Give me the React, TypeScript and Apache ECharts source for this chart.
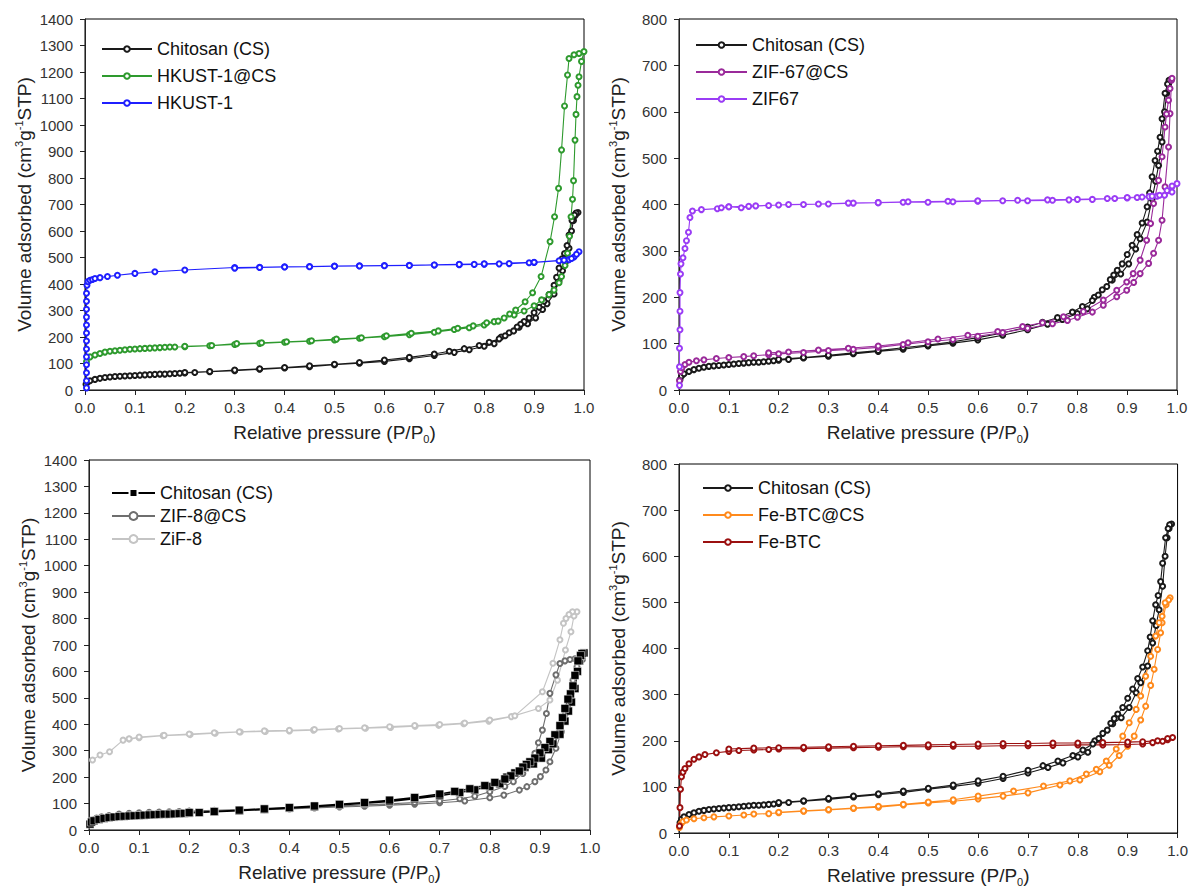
import React, { useEffect, useRef } from "react";
import * as echarts from "echarts";

type Pt = [number, number];

// ---------- Chitosan (CS) ----------
const csAds: Pt[] = [
  [0.002, 22], [0.005, 30], [0.01, 35], [0.02, 40], [0.03, 44], [0.04, 47], [0.05, 49], [0.06, 51],
  [0.07, 52], [0.08, 53], [0.09, 54], [0.1, 55], [0.11, 56], [0.12, 57], [0.13, 58], [0.14, 59],
  [0.15, 60], [0.16, 60], [0.17, 61], [0.18, 62], [0.19, 63], [0.2, 64], [0.22, 66], [0.25, 69],
  [0.3, 73], [0.35, 78], [0.4, 83], [0.45, 88], [0.5, 95], [0.55, 101], [0.6, 108], [0.65, 118],
  [0.7, 130], [0.74, 142], [0.77, 152], [0.8, 165], [0.82, 175], [0.834, 200], [0.85, 216],
  [0.87, 237], [0.887, 250], [0.903, 272], [0.917, 304], [0.926, 326], [0.94, 362], [0.95, 412],
  [0.957, 450], [0.963, 484], [0.97, 535], [0.975, 600], [0.979, 640], [0.983, 660], [0.988, 670],
];
const csDes: Pt[] = [
  [0.984, 668], [0.981, 660], [0.976, 640], [0.97, 585], [0.966, 545], [0.961, 515], [0.956, 495],
  [0.95, 460], [0.945, 425], [0.94, 395], [0.93, 360], [0.92, 335], [0.91, 312], [0.9, 292],
  [0.89, 272], [0.88, 258], [0.873, 248], [0.866, 238], [0.859, 223], [0.842, 205], [0.83, 193],
  [0.81, 180], [0.79, 168], [0.76, 156], [0.73, 146], [0.7, 136], [0.65, 123], [0.6, 113],
  [0.55, 104], [0.5, 97], [0.45, 91], [0.4, 85], [0.35, 80], [0.3, 75], [0.25, 70], [0.2, 66],
];

// ---------- HKUST-1@CS ----------
const hkcsAds: Pt[] = [
  [0.003, 107], [0.01, 125], [0.02, 132], [0.03, 138], [0.04, 143], [0.05, 146], [0.06, 148],
  [0.07, 150], [0.08, 152], [0.09, 154], [0.1, 155], [0.11, 156], [0.12, 157], [0.13, 158],
  [0.14, 159], [0.15, 160], [0.16, 161], [0.17, 162], [0.18, 162], [0.2, 163], [0.25, 167],
  [0.3, 172], [0.35, 176], [0.4, 180], [0.45, 184], [0.5, 189], [0.55, 195], [0.6, 201],
  [0.65, 209], [0.7, 218], [0.74, 228], [0.77, 235], [0.8, 245], [0.82, 258], [0.84, 272],
  [0.86, 283], [0.88, 298], [0.9, 318], [0.915, 340], [0.93, 360], [0.94, 377], [0.95, 405],
  [0.955, 428], [0.962, 470], [0.967, 516], [0.971, 580], [0.974, 654], [0.977, 720],
  [0.979, 790], [0.982, 943], [0.984, 1040], [0.986, 1107], [0.988, 1150], [0.99, 1182],
  [0.995, 1240], [1.0, 1277],
];
const hkcsDes: Pt[] = [
  [0.99, 1270], [0.98, 1265], [0.97, 1251], [0.967, 1189], [0.961, 1072], [0.955, 906],
  [0.949, 761], [0.941, 654], [0.932, 560], [0.914, 428], [0.897, 367], [0.882, 333],
  [0.863, 302], [0.851, 287], [0.828, 260], [0.805, 254], [0.778, 242], [0.747, 233],
  [0.708, 223], [0.654, 214], [0.604, 205], [0.554, 197], [0.504, 192], [0.454, 186],
  [0.404, 182], [0.354, 178], [0.304, 175], [0.254, 168], [0.2, 165],
];

// ---------- HKUST-1 ----------
const hkAds: Pt[] = [
  [0.003, 8], [0.003, 35], [0.003, 65], [0.003, 95], [0.003, 125], [0.003, 155], [0.003, 185],
  [0.003, 215], [0.003, 245], [0.003, 275], [0.003, 305], [0.003, 335], [0.003, 365],
  [0.004, 395], [0.006, 409], [0.01, 414], [0.015, 417], [0.02, 421], [0.03, 424], [0.045, 428],
  [0.065, 433], [0.1, 440], [0.14, 446], [0.2, 453], [0.3, 462], [0.35, 463], [0.4, 465],
  [0.45, 466], [0.5, 468], [0.55, 469], [0.6, 470], [0.65, 471], [0.7, 472], [0.75, 473],
  [0.78, 474], [0.8, 475], [0.83, 476], [0.85, 477], [0.89, 480], [0.9, 481], [0.95, 488],
  [0.97, 492], [0.98, 502], [0.99, 522],
];
const hkDes: Pt[] = [
  [0.985, 512], [0.975, 496], [0.96, 490], [0.9, 482], [0.8, 476], [0.75, 474], [0.7, 472],
  [0.65, 470], [0.6, 469], [0.55, 468], [0.5, 467], [0.45, 465], [0.4, 464], [0.35, 462], [0.3, 460],
];

// ---------- ZIF-67@CS ----------
const z67csAds: Pt[] = [
  [0.001, 20], [0.003, 40], [0.006, 48], [0.012, 55], [0.02, 60], [0.035, 63], [0.05, 65],
  [0.075, 68], [0.1, 70], [0.13, 72], [0.15, 74], [0.18, 76], [0.2, 78], [0.25, 81], [0.3, 85],
  [0.35, 88], [0.4, 92], [0.45, 98], [0.5, 104], [0.55, 109], [0.6, 116], [0.65, 124],
  [0.7, 133], [0.75, 143], [0.78, 150], [0.8, 157], [0.83, 168], [0.852, 183], [0.879, 201],
  [0.899, 215], [0.913, 232], [0.926, 251], [0.943, 273], [0.953, 295], [0.963, 323],
  [0.97, 366], [0.976, 438], [0.983, 524], [0.986, 596], [0.989, 668],
];
const z67csDes: Pt[] = [
  [0.99, 672], [0.986, 650], [0.983, 625], [0.979, 595], [0.976, 567], [0.97, 503], [0.963, 452],
  [0.953, 402], [0.947, 359], [0.939, 323], [0.926, 280], [0.912, 251], [0.899, 233],
  [0.879, 215], [0.852, 194], [0.812, 169], [0.772, 158], [0.73, 145], [0.69, 137], [0.64, 126],
  [0.58, 118], [0.52, 110], [0.46, 102], [0.4, 95], [0.34, 90], [0.28, 86], [0.22, 82], [0.18, 80],
];

// ---------- ZIF67 ----------
const z67Ads: Pt[] = [
  [0.001, 10], [0.001, 50], [0.001, 90], [0.002, 130], [0.002, 170], [0.002, 210], [0.003, 250],
  [0.004, 272], [0.008, 285], [0.012, 305], [0.015, 322], [0.019, 340], [0.022, 372],
  [0.027, 386], [0.045, 389], [0.077, 391], [0.1, 395], [0.125, 393], [0.154, 397], [0.2, 399],
  [0.25, 400], [0.3, 401], [0.35, 403], [0.4, 404], [0.45, 405], [0.5, 405], [0.55, 406],
  [0.6, 407], [0.65, 408], [0.7, 408], [0.75, 409], [0.783, 410], [0.83, 411], [0.875, 413],
  [0.9, 414], [0.92, 415], [0.944, 417], [0.96, 418], [0.975, 420], [0.99, 427], [1.0, 445],
];
const z67Des: Pt[] = [
  [0.99, 440], [0.98, 430], [0.965, 420], [0.95, 418], [0.93, 416], [0.9, 415], [0.86, 413],
  [0.8, 411], [0.74, 410], [0.68, 409], [0.6, 408], [0.54, 407], [0.46, 406], [0.4, 404],
  [0.34, 403], [0.28, 401], [0.22, 400], [0.18, 398], [0.14, 396], [0.1, 395], [0.085, 393],
];

// ---------- ZIF-8@CS ----------
const z8csAds: Pt[] = [
  [0.008, 38], [0.015, 45], [0.025, 50], [0.04, 55], [0.06, 60], [0.08, 63], [0.1, 65],
  [0.12, 67], [0.14, 68], [0.16, 69], [0.18, 70], [0.2, 71], [0.25, 73], [0.3, 75], [0.35, 77],
  [0.4, 80], [0.45, 83], [0.5, 87], [0.55, 90], [0.6, 94], [0.65, 98], [0.7, 103], [0.75, 110],
  [0.8, 122], [0.828, 132], [0.859, 151], [0.874, 164], [0.89, 183], [0.901, 202], [0.912, 227],
  [0.92, 258], [0.932, 309], [0.943, 372], [0.951, 441], [0.958, 504], [0.966, 567],
  [0.974, 618], [0.985, 645],
];
const z8csDes: Pt[] = [
  [0.98, 650], [0.97, 648], [0.96, 645], [0.95, 640], [0.94, 630], [0.932, 587], [0.92, 517],
  [0.913, 441], [0.905, 378], [0.897, 330], [0.89, 290], [0.877, 246], [0.866, 214],
  [0.847, 183], [0.83, 165], [0.8, 145], [0.77, 128], [0.74, 118], [0.7, 110], [0.65, 104],
  [0.6, 99], [0.55, 95], [0.5, 91], [0.45, 87], [0.4, 83], [0.35, 80], [0.3, 77], [0.25, 75], [0.2, 72],
];

// ---------- ZiF-8 ----------
const z8Ads: Pt[] = [
  [0.007, 265], [0.022, 284], [0.041, 296], [0.068, 340], [0.08, 344], [0.1, 349], [0.148, 357],
  [0.202, 361], [0.252, 366], [0.302, 371], [0.352, 373], [0.4, 375], [0.448, 378], [0.498, 382],
  [0.552, 385], [0.602, 388], [0.651, 393], [0.698, 396], [0.748, 402], [0.798, 412],
  [0.843, 429], [0.897, 460], [0.92, 492], [0.935, 567], [0.951, 681], [0.962, 750],
  [0.968, 810], [0.974, 826],
];
const z8Des: Pt[] = [
  [0.965, 826], [0.958, 815], [0.952, 800], [0.947, 782], [0.94, 720], [0.926, 631],
  [0.905, 523], [0.85, 432], [0.8, 416], [0.75, 405], [0.7, 399], [0.65, 395], [0.6, 391],
  [0.55, 387], [0.5, 384], [0.45, 380], [0.4, 377], [0.35, 375], [0.3, 372], [0.25, 368],
  [0.2, 363], [0.15, 358], [0.1, 352], [0.08, 345],
];

// ---------- Fe-BTC@CS ----------
const febcsAds: Pt[] = [
  [0.001, 12], [0.004, 20], [0.008, 25], [0.015, 28], [0.03, 31], [0.05, 33], [0.07, 35],
  [0.1, 37], [0.13, 39], [0.15, 41], [0.18, 42], [0.2, 44], [0.25, 47], [0.3, 50], [0.35, 53],
  [0.4, 56], [0.45, 61], [0.5, 65], [0.55, 69], [0.6, 74], [0.65, 80], [0.7, 87], [0.764, 104],
  [0.804, 115], [0.844, 133], [0.863, 147], [0.883, 168], [0.9, 188], [0.913, 210], [0.926, 245],
  [0.936, 275], [0.946, 320], [0.953, 355], [0.96, 398], [0.966, 434], [0.969, 456],
  [0.977, 495], [0.985, 510],
];
const febcsDes: Pt[] = [
  [0.982, 505], [0.975, 499], [0.969, 470], [0.963, 456], [0.956, 427], [0.946, 383],
  [0.936, 340], [0.926, 297], [0.917, 268], [0.903, 239], [0.89, 210], [0.877, 182],
  [0.857, 156], [0.837, 138], [0.817, 128], [0.784, 113], [0.731, 102], [0.671, 91], [0.6, 80],
  [0.55, 72], [0.5, 67], [0.45, 62], [0.4, 58], [0.35, 54], [0.3, 51], [0.25, 48], [0.2, 45],
];

// ---------- Fe-BTC ----------
const febAds: Pt[] = [
  [0.001, 15], [0.002, 55], [0.003, 95], [0.005, 122], [0.008, 132], [0.012, 140], [0.02, 150],
  [0.03, 160], [0.04, 165], [0.052, 170], [0.075, 174], [0.1, 177], [0.12, 179], [0.15, 180],
  [0.18, 181], [0.2, 182], [0.25, 183], [0.3, 184], [0.35, 185], [0.4, 186], [0.45, 187],
  [0.5, 187], [0.55, 188], [0.6, 188], [0.65, 189], [0.7, 189], [0.75, 190], [0.8, 191],
  [0.85, 191], [0.9, 192], [0.93, 193], [0.95, 196], [0.97, 199], [0.98, 202], [0.99, 207],
];
const febDes: Pt[] = [
  [0.98, 205], [0.96, 200], [0.93, 198], [0.9, 197], [0.85, 196], [0.8, 195], [0.75, 195],
  [0.7, 194], [0.65, 194], [0.6, 193], [0.55, 192], [0.5, 191], [0.45, 190], [0.4, 189],
  [0.35, 188], [0.3, 187], [0.25, 186], [0.2, 185], [0.15, 184], [0.1, 182],
];

// ---------- labels / axes ----------
const legendLabels: Record<string, string> = {
  cs1: "Chitosan (CS)", hkcs: "HKUST-1@CS", hk: "HKUST-1",
  cs2: "Chitosan (CS)", z67cs: "ZIF-67@CS", z67: "ZIF67",
  cs3: "Chitosan (CS)", z8cs: "ZIF-8@CS", z8: "ZiF-8",
  cs4: "Chitosan (CS)", febcs: "Fe-BTC@CS", feb: "Fe-BTC",
};
const panelKeys = [
  ["cs1", "hkcs", "hk"],
  ["cs2", "z67cs", "z67"],
  ["cs3", "z8cs", "z8"],
  ["cs4", "febcs", "feb"],
];
const yMaxes = [1400, 800, 1400, 800];
const xTitle = "Relative pressure (P/P{sub|0})";
const yTitle = "Volume adsorbed (cm{sup|3}g{sup|-1}STP)";

const FONT = "'Liberation Sans', Arial, Helvetica, sans-serif";

const grids = [
  { left: 85, top: 19, width: 499, height: 371 },
  { left: 679, top: 19, width: 498, height: 371 },
  { left: 89, top: 460, width: 501, height: 370 },
  { left: 679, top: 464, width: 502, height: 370 },
];
const legendPos = [
  { left: 101, top: 40, itemWidth: 50, itemGap: 9, itemHeight: 7 },
  { left: 695, top: 36, itemWidth: 51, itemGap: 9, itemHeight: 7 },
  { left: 111, top: 484, itemWidth: 43, itemGap: 5, itemHeight: 10 },
  { left: 702, top: 479, itemWidth: 50, itemGap: 9, itemHeight: 7 },
];

function lineSeries(name: string, data: Pt[], color: string, idx: number, extra: any = {}) {
  return {
    type: "line",
    name,
    data,
    xAxisIndex: idx,
    yAxisIndex: idx,
    symbol: "emptyCircle",
    symbolSize: 5,
    showSymbol: true,
    showAllSymbol: true,
    lineStyle: { color, width: 1.1 },
    itemStyle: { color, borderColor: color, borderWidth: 0.9 },
    emphasis: { disabled: true },
    silent: true,
    ...extra,
  };
}

export default function App() {
  const ref = useRef<HTMLDivElement>(null);
  useEffect(() => {
    if (!ref.current) return;
    const chart = echarts.init(ref.current, undefined, { renderer: "svg" });
    const axisLabelStyle = { color: "#333", fontSize: 15, fontFamily: FONT };
    const nameStyle = {
      color: "#222",
      fontSize: 19,
      fontFamily: FONT,
      rich: {
        sub: { fontSize: 11, fontFamily: FONT, color: "#222", padding: [12, 0, 0, 0] },
        sup: { fontSize: 11, fontFamily: FONT, color: "#222", padding: [0, 0, 11, 0] },
      },
    };
    const xAxes = grids.map((_, i) => ({
      type: "value",
      gridIndex: i,
      min: 0,
      max: 1,
      interval: 0.1,
      name: xTitle,
      nameLocation: "middle",
      nameGap: 31,
      nameTextStyle: nameStyle,
      axisLine: { show: true, lineStyle: { color: "#222", width: 1 } },
      axisTick: { show: true, inside: false, length: 5, lineStyle: { color: "#222" } },
      axisLabel: { ...axisLabelStyle, margin: 10, formatter: (v: number) => v.toFixed(1) },
      splitLine: { show: false },
    }));
    const yAxes = grids.map((_, i) => ({
      type: "value",
      gridIndex: i,
      min: 0,
      max: yMaxes[i],
      interval: 100,
      name: yTitle,
      nameLocation: "middle",
      nameGap: 50,
      nameTextStyle: nameStyle,
      axisLine: { show: true, lineStyle: { color: "#222", width: 1 } },
      axisTick: { show: true, inside: false, length: 5, lineStyle: { color: "#222" } },
      axisLabel: { ...axisLabelStyle, margin: 12, formatter: (v: number) => String(Math.round(v)) },
      splitLine: { show: false },
    }));
    const legends = panelKeys.map((keys, i) => ({
      data: keys,
      orient: "vertical",
      left: legendPos[i].left,
      top: legendPos[i].top,
      itemWidth: legendPos[i].itemWidth,
      itemHeight: legendPos[i].itemHeight,
      itemGap: legendPos[i].itemGap,
      padding: 0,
      selectedMode: false,
      formatter: (n: string) => legendLabels[n],
      textStyle: { color: "#111", fontSize: 18, fontFamily: FONT },
    }));
    const series = [
      lineSeries("cs1", [...csAds, ...csDes], "#1a1a1a", 0),
      lineSeries("hkcs", [...hkcsAds, ...hkcsDes], "#2e9a2e", 0),
      lineSeries("hk", [...hkAds, ...hkDes], "#1f1fff", 0),
      lineSeries("cs2", [...csAds, ...csDes], "#1a1a1a", 1),
      lineSeries("z67cs", [...z67csAds, ...z67csDes], "#9a2a9a", 1),
      lineSeries("z67", [...z67Ads, ...z67Des], "#9a3cf5", 1),
      lineSeries("z8", [...z8Ads, ...z8Des], "#c4c4c4", 2),
      lineSeries("z8cs", [...z8csAds, ...z8csDes], "#6e6e6e", 2),
      lineSeries("cs3", [...csAds, ...csDes], "#000000", 2, {
        symbol: "rect",
        symbolSize: 8,
        lineStyle: { color: "#000", width: 1.5 },
        itemStyle: { color: "#000", borderColor: "#fff", borderWidth: 0.5 },
      }),
      lineSeries("cs4", [...csAds, ...csDes], "#1a1a1a", 3),
      lineSeries("febcs", [...febcsAds, ...febcsDes], "#ff8a1c", 3),
      lineSeries("feb", [...febAds, ...febDes], "#9b1010", 3),
    ];
    chart.setOption({
      animation: false,
      backgroundColor: "#fff",
      textStyle: { fontFamily: FONT },
      grid: grids.map((g) => ({ ...g, show: true, borderColor: "#000", borderWidth: 1, backgroundColor: "transparent" })),
      xAxis: xAxes,
      yAxis: yAxes,
      legend: legends,
      series,
    } as any);
    return () => chart.dispose();
  }, []);
  return (
    <div
      ref={ref}
      style={{ position: "absolute", left: 0, top: 0, width: 1191, height: 888 }}
    />
  );
}
